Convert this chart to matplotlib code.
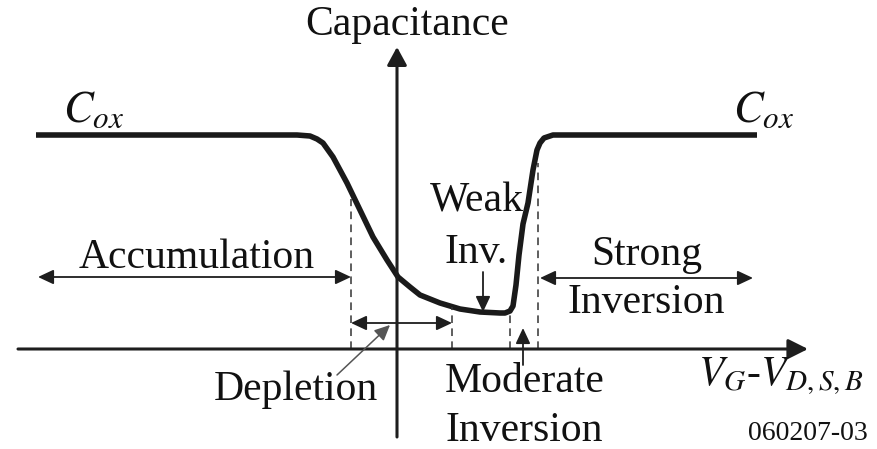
# encoding=utf-8
'''
MOS 电容的 C-V 曲线示意图
'''
import matplotlib.pyplot as plt

plt.rcParams['font.family'] = ['Liberation Serif', 'DejaVu Serif']
plt.rcParams['mathtext.fontset'] = 'stix'

# C-V 曲线 (横轴 VG-VD,S,B, 纵轴 capacitance, 原点为两轴交点)
v_gate = [-361, -100, -87, -80, -74, -64, -50, -37, -24, -10, 1, 13, 23, 43,
          63, 83, 103, 108, 113, 116, 119, 122, 126, 131, 136, 140, 143,
          147, 156, 360]
capacitance = [214, 214, 213, 210, 206, 192, 166, 139, 112, 89, 72, 62, 54,
               46, 40, 37, 36, 36, 38, 43, 64, 94, 125, 146, 179, 199, 206,
               211, 214, 214]

# 各工作区的边界 (虚线), 以及虚线上端的高度
region_edges = [-46, 55, 113, 141]
edge_tops = [150, 42, 34, 186]

font_main = 30


def arrow(ax, start, end, style='-|>', color='#1e1e1e', lw=1.3,
          hl=0.47, hw=0.22, ms=20):
    ax.annotate('', xy=end, xytext=start,
                arrowprops=dict(arrowstyle='%s,head_length=%s,head_width=%s'
                                % (style, hl, hw),
                                color=color, lw=lw, mutation_scale=ms,
                                shrinkA=0, shrinkB=0))


fig = plt.figure(figsize=(8.78, 4.49), dpi=100)
ax = fig.add_axes([0, 0, 1, 1])
ax.set_xlim(-397, 481)
ax.set_ylim(-100, 349)
ax.axis('off')

# 坐标轴
arrow(ax, (-379, 0), (411, 0), lw=2.2, hl=0.6, hw=0.3)
arrow(ax, (0, -88), (0, 302), lw=2.2, hl=0.55, hw=0.3)

# 曲线
ax.plot(v_gate, capacitance, color='#1a1a1a', lw=4.0,
        solid_joinstyle='round', solid_capstyle='butt')

# 区域分界虚线
for x, top in zip(region_edges, edge_tops):
    ax.plot([x, x], [0, top], color='#333333', lw=1.1, ls=(0, (5, 3.5)))

# 各区域的箭头
arrow(ax, (-46, 72), (-359, 72), style='<|-|>')
arrow(ax, (143, 71), (356, 71), style='<|-|>')
arrow(ax, (-46, 26), (55, 26), style='<|-|>')
arrow(ax, (-60, -26), (-7, 24), color='#555555', lw=1.1)
arrow(ax, (86, 77), (86, 37))
arrow(ax, (126, -16), (126, 21))

# 文字
def label(x, y, s, size=font_main, ha='center'):
    ax.text(x, y, s, fontsize=size, ha=ha, va='baseline', color='#111111')


label(10, 314, 'Capacitance')
label(-200, 81, 'Accumulation')
label(250, 84, 'Strong')
label(249, 36, 'Inversion')
label(80, 137, 'Weak')
label(79, 86, 'Inv.')
label(-101, -51, 'Depletion')
label(128, -43, 'Moderate')
label(127, -92, 'Inversion')
label(-334, 227, r'$C_{ox}$', size=32, ha='left')
label(336, 227, r'$C_{ox}$', size=32, ha='left')
label(301, -36, r'$V_G$-$V_{D,S,B}$', size=30, ha='left')
label(471, -91, '060207-03', size=20, ha='right')

plt.savefig('out.png', dpi=100)
